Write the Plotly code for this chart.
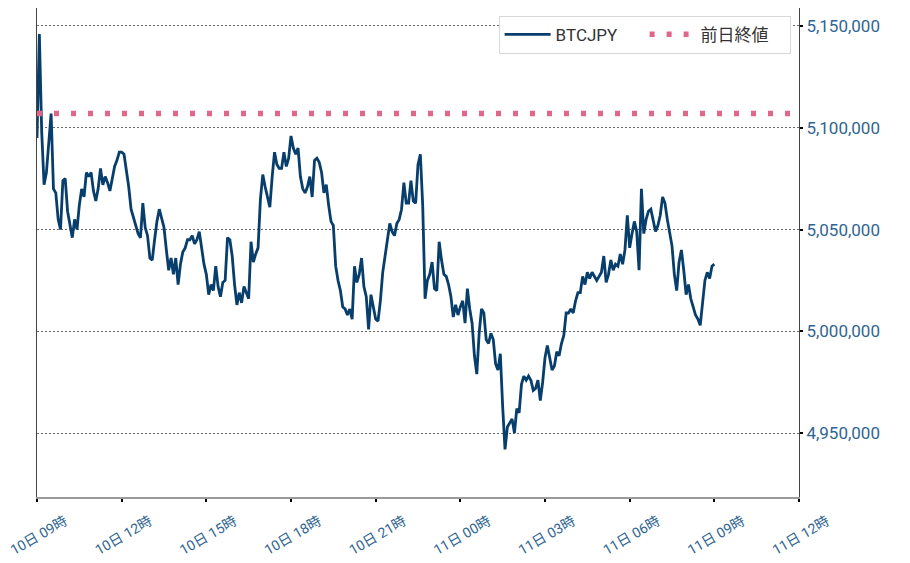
import pandas as pd
import plotly.graph_objects as go

# BTCJPY, 5 minute bars from 10日 09:00 to 11日 09:00 (one row per hour)
start_time = "2021-02-10 09:00"
end_axis = "2021-02-11 12:00"
prices = [
    5095000, 5146000, 5098000, 5072000, 5078000, 5093000, 5107000, 5070000, 5068000, 5055000, 5050000, 5074000,
    5075000, 5059000, 5053000, 5046000, 5055000, 5050000, 5062000, 5070000, 5066000, 5078000, 5076000, 5078000,
    5069000, 5064000, 5070000, 5080000, 5072000, 5076000, 5073000, 5069000, 5075000, 5081000, 5084000, 5088000,
    5088000, 5087000, 5079000, 5071000, 5060000, 5056000, 5053000, 5048000, 5046000, 5063000, 5051000, 5047000,
    5036000, 5035000, 5045000, 5054000, 5060000, 5056000, 5051000, 5040000, 5030000, 5036000, 5028000, 5036000,
    5023000, 5033000, 5039000, 5041000, 5045000, 5045000, 5047000, 5043000, 5045000, 5049000, 5040000, 5033000,
    5028000, 5018000, 5023000, 5020000, 5032000, 5022000, 5017000, 5024000, 5025000, 5046000, 5045000, 5037000,
    5023000, 5013000, 5019000, 5014000, 5022000, 5019000, 5016000, 5044000, 5034000, 5038000, 5041000, 5065000,
    5077000, 5071000, 5066000, 5061000, 5076000, 5088000, 5082000, 5080000, 5080000, 5088000, 5081000, 5085000,
    5096000, 5090000, 5087000, 5090000, 5076000, 5070000, 5068000, 5071000, 5076000, 5066000, 5084000, 5085000,
    5083000, 5078000, 5068000, 5072000, 5062000, 5054000, 5052000, 5032000, 5025000, 5020000, 5012000, 5011000,
    5008000, 5011000, 5006000, 5032000, 5024000, 5028000, 5036000, 5022000, 5017000, 5001000, 5018000, 5011000,
    5006000, 5005000, 5015000, 5029000, 5036000, 5045000, 5053000, 5049000, 5047000, 5053000, 5055000, 5060000,
    5073000, 5063000, 5063000, 5074000, 5064000, 5063000, 5082000, 5087000, 5062000, 5016000, 5025000, 5028000,
    5034000, 5021000, 5020000, 5044000, 5035000, 5028000, 5027000, 5023000, 5017000, 5007000, 5013000, 5008000,
    5012000, 5015000, 5004000, 5021000, 5011000, 5004000, 4988000, 4979000, 4999000, 5011000, 5009000, 4996000,
    4994000, 4999000, 4996000, 4984000, 4981000, 4989000, 4963000, 4942000, 4953000, 4955000, 4957000, 4950000,
    4962000, 4960000, 4974000, 4978000, 4976000, 4978000, 4976000, 4971000, 4972000, 4976000, 4966000, 4975000,
    4987000, 4993000, 4987000, 4981000, 4983000, 4990000, 4988000, 4994000, 4998000, 5009000, 5009000, 5011000,
    5009000, 5015000, 5019000, 5019000, 5027000, 5023000, 5029000, 5026000, 5029000, 5027000, 5025000, 5027000,
    5029000, 5037000, 5024000, 5028000, 5035000, 5030000, 5033000, 5032000, 5038000, 5033000, 5040000, 5057000,
    5041000, 5048000, 5054000, 5049000, 5030000, 5070000, 5048000, 5055000, 5059000, 5060000, 5055000, 5049000,
    5052000, 5057000, 5066000, 5063000, 5055000, 5049000, 5042000, 5028000, 5020000, 5034000, 5040000, 5030000,
    5018000, 5023000, 5016000, 5012000, 5008000, 5006000, 5003000, 5014000, 5025000, 5029000, 5026000, 5032000,
    5033000,
]
prev_close = 5107000

times = pd.date_range(start_time, periods=len(prices), freq="5min")

navy = "#073e6b"
pink = "#e0678a"
tick_blue = "#2f6591"
font_family = "Roboto, 'Noto Sans CJK JP', sans-serif"

fig = go.Figure()
fig.add_trace(go.Scatter(
    x=times, y=prices, mode="lines", name="BTCJPY",
    line=dict(color=navy, width=2.8),
))
fig.add_trace(go.Scatter(
    x=[pd.Timestamp(start_time), pd.Timestamp(end_axis)], y=[prev_close, prev_close],
    mode="lines", name="前日終値",
    line=dict(color=pink, width=5.5, dash="5px,12px"),
))

# the page body has an 8px margin, so the figure is a bit smaller than the window
fig.update_layout(
    width=902, height=555,
    margin=dict(l=29, r=111, t=0, b=66),
    paper_bgcolor="white", plot_bgcolor="white",
    font=dict(family=font_family, color="#333333"),
    showlegend=True,
    legend=dict(
        orientation="h", x=0.989, xanchor="right", y=0.984, yanchor="top",
        bgcolor="white", bordercolor="#d8d8d8", borderwidth=1,
        font=dict(size=17, color="#333333"),
        entrywidth=84, itemwidth=46,
    ),
)
# labels centred under the ticks, like the original
fig.update_xaxes(
    range=[pd.Timestamp(start_time), pd.Timestamp(end_axis)],
    tick0=pd.Timestamp(start_time), dtick=3 * 3600 * 1000,
    tickformat="%d日 %H時", tickangle=-30,
    tickfont=dict(size=14, color=tick_blue),
    ticks="outside", ticklen=3, tickcolor="black", tickwidth=2,
    ticklabelshift=28, ticklabelstandoff=6,
    ticklabeloverflow="allow", automargin=False,
    showgrid=False, zeroline=False,
    showline=True, linecolor="#9a9a9a", linewidth=2, mirror=True,
)
fig.update_yaxes(
    side="right",
    range=[4918627, 5158824],
    tick0=4950000, dtick=50000, tickformat=",d",
    tickfont=dict(size=17, color=tick_blue),
    ticks="outside", ticklen=3, tickcolor="black", tickwidth=2,
    automargin=False,
    showgrid=True, gridcolor="#666666", gridwidth=0.8, griddash="2px,2px",
    zeroline=False,
    showline=True, linecolor="#444444", linewidth=1, mirror=True,
)

fig.write_html("out.html")
